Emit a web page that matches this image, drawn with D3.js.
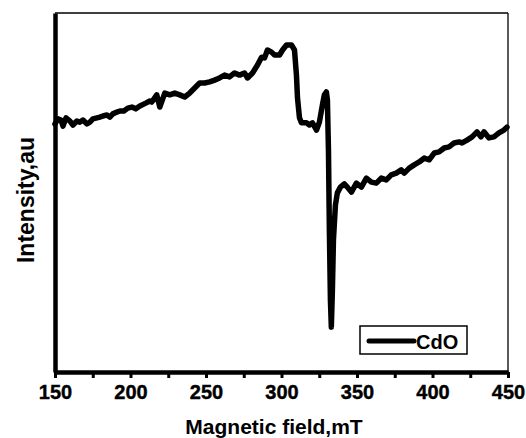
<!DOCTYPE html>
<html>
<head>
<meta charset="utf-8">
<script src="https://cdn.jsdelivr.net/npm/d3@7"></script>
<style>
  html, body { margin: 0; padding: 0; background: #fff; }
  svg { display: block; font-family: "Liberation Sans", Arial, sans-serif; font-weight: bold; }
</style>
</head>
<body>
<svg id="chart" width="526" height="438"></svg>
<script>
// ---- data ----
const field = [150,152,154,155.3,157.3,159.9,161.9,164.5,166.5,168.5,171.1,173.1,175.1,177.8,179.7,181.7,184.4,186.3,188.3,191,193,195.6,198.2,200.9,203.5,206.2,210.1,212.8,214.1,217.4,219.4,222.7,226,229.3,232.6,235.9,239.2,242.5,245.8,249.1,252.4,255.7,259,262.3,265.6,268.9,272.2,275.5,277.5,280.8,284.1,286.8,288.8,290.7,293.4,295.4,298.7,300.7,303.3,306.6,308.6,309.9,310.6,311.9,313.2,316.5,318.5,320.5,323.2,325.1,327.1,328.4,329.7,330.4,331.1,331.7,332.4,333,333.7,334.4,335.7,337,339,341.6,343.6,346.3,349.6,352.9,356.2,359.5,362.8,366.1,369.4,372.7,376,379.3,381.3,384.6,387.9,391.2,394.5,397.8,401.1,404.4,407.7,411,414.3,417.6,419.6,422.9,426.2,429.5,432.1,434.1,437.4,440.7,444,447.3,449.3];
const intensity = [69.1,70.5,70.2,68.5,70.8,69.9,68.8,69.9,69.6,70.2,69.1,69.6,70.5,70.8,71,71.3,71.6,71,71.9,72.4,72.7,72.7,73.5,73.8,73.3,74.1,74.9,75.5,75.2,77.2,73.8,77.7,77.2,77.7,77.2,76.6,77.7,79.1,80.5,80.5,80.8,81.3,81.9,82.7,82.2,83.3,82.7,83.3,81.9,83.3,85.5,87.7,87.5,89.7,89.1,88.3,88.3,89.7,91.1,91.1,89.7,82.7,76.3,70.8,69.4,69.4,68.8,69.4,67.4,69.6,74.4,77.2,78,75.8,61.8,39.6,20.1,12.5,22.8,36.8,46.5,49.9,51.5,52.4,51.5,50.1,52.6,51.5,54,52.9,52.6,54,53.5,54.9,55.4,56.3,55.4,56.8,57.7,58.5,59.6,59.1,61,61.3,62.4,62.7,63.8,64.1,63.8,64.6,65.5,66.9,65.5,66.9,65.2,65.5,66.6,67.4,68.2];
const xTicks = [150,175,200,225,250,275,300,325,350,375,400,425,450];
const xLabels = [150,200,250,300,350,400,450];
const seriesName = "CdO";
const xTitle = "Magnetic field,mT";
const yTitle = "Intensity,au";

// ---- layout ----
const svg = d3.select("#chart");
const L = 55, R = 508, T = 13, B = 372;

const x = d3.scaleLinear().domain([150, 450]).range([L, R]);
const y = d3.scaleLinear().domain([0, 100]).range([B, T]);

// frame (thin top & right)
svg.append("line").attr("x1", L).attr("x2", R).attr("y1", T).attr("y2", T)
  .attr("stroke", "#000").attr("stroke-width", 1.3);
svg.append("line").attr("x1", R).attr("x2", R).attr("y1", T).attr("y2", B)
  .attr("stroke", "#000").attr("stroke-width", 1.3);

// data line
const pts = field.map((f, i) => [f, intensity[i]]);
svg.append("path")
  .datum(pts)
  .attr("fill", "none")
  .attr("stroke", "#000")
  .attr("stroke-width", 5.5)
  .attr("stroke-linejoin", "round")
  .attr("stroke-linecap", "round")
  .attr("d", d3.line().x(d => x(d[0])).y(d => y(d[1])));

// bottom axis
const xAxis = d3.axisBottom(x)
  .tickValues(xTicks)
  .tickSize(6)
  .tickSizeOuter(0)
  .tickPadding(7)
  .tickFormat(d => xLabels.includes(d) ? d3.format("d")(d) : "");
const gx = svg.append("g").attr("transform", `translate(0,${B})`).call(xAxis);
gx.select(".domain").attr("stroke", "#000").attr("stroke-width", 4.5);
gx.selectAll(".tick line").attr("stroke", "#000").attr("stroke-width", 3);
gx.selectAll(".tick text")
  .attr("font-family", "'Liberation Sans', Arial, sans-serif")
  .attr("font-weight", "bold")
  .attr("font-size", 20)
  .attr("fill", "#000")
  .attr("stroke", "#000")
  .attr("stroke-width", 0.4);

// left axis (thick, no ticks)
const yAxis = d3.axisLeft(y).tickValues([]).tickSizeOuter(0);
const gy = svg.append("g").attr("transform", `translate(${L},0)`).call(yAxis);
gy.select(".domain").attr("stroke", "#000").attr("stroke-width", 4.5);

// titles
svg.append("text")
  .attr("x", 274).attr("y", 434)
  .attr("text-anchor", "middle")
  .attr("font-size", 21)
  .attr("fill", "#000")
  .text(xTitle);

svg.append("text")
  .attr("transform", `translate(34,200) rotate(-90)`)
  .attr("text-anchor", "middle")
  .attr("font-size", 23)
  .attr("fill", "#000")
  .text(yTitle);

// legend
const lg = svg.append("g");
lg.append("rect")
  .attr("x", 360).attr("y", 326).attr("width", 107).attr("height", 28)
  .attr("fill", "#fff").attr("stroke", "#000").attr("stroke-width", 1.5);
lg.append("line")
  .attr("x1", 369).attr("x2", 414).attr("y1", 341).attr("y2", 341)
  .attr("stroke", "#000").attr("stroke-width", 5).attr("stroke-linecap", "round");
lg.append("text")
  .attr("x", 416).attr("y", 348.5)
  .attr("font-size", 20)
  .attr("fill", "#000")
  .text(seriesName);
</script>
</body>
</html>
